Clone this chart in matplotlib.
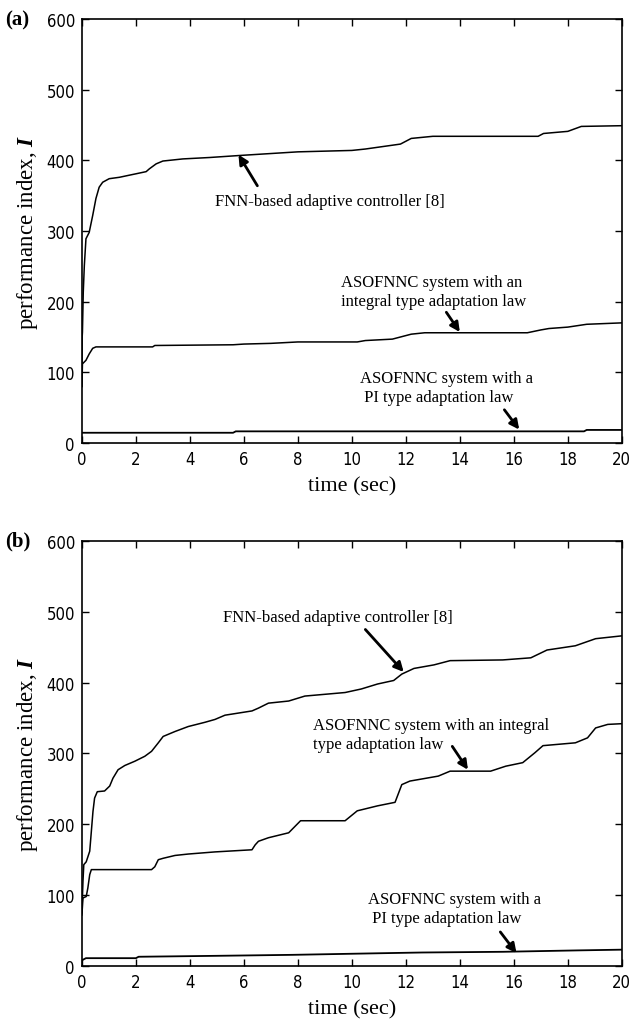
import numpy as np
import matplotlib
matplotlib.use('Agg')
import matplotlib.pyplot as plt

plt.rcParams['font.family'] = ['Liberation Serif', 'DejaVu Serif']
plt.rcParams['mathtext.fontset'] = 'custom'
plt.rcParams['mathtext.bf'] = 'Liberation Serif:bold:italic'

# Panel (a) curves
t_fnn_a = [0, 0.01, 0.02, 0.05, 0.09, 0.15, 0.27, 0.4, 0.52, 0.64, 0.77, 1.01, 1.39, 1.76, 2.01, 2.38,
           2.5, 2.75, 3.0, 3.74, 4.73, 5.9, 8.0, 10.0, 10.5, 11.8, 12.2, 13.0, 16.9, 17.1, 18.0, 18.5, 20]
fnn_a = [80, 150, 157, 213, 251, 289, 298, 322, 346, 362, 369, 374, 376, 379, 381, 384,
         388, 395, 399, 402, 404, 407, 412, 414, 416, 423, 431, 434, 434, 438, 441, 448, 449]

t_int_a = [0, 0.02, 0.15, 0.27, 0.4, 0.52, 2.62, 2.7, 5.6, 6.0, 7.0, 8.0, 10.2, 10.5, 11.5, 11.8,
           12.2, 12.7, 16.5, 17.0, 17.3, 18.0, 18.7, 20]
int_a = [80, 112, 117, 126, 134, 136, 136, 138, 139, 140, 141, 143, 143, 145, 147, 150,
         154, 156, 156, 160, 162, 164, 168, 170]

t_pi_a = [0, 5.6, 5.7, 18.6, 18.7, 20]
pi_a = [14.5, 14.5, 16.5, 16.5, 18.5, 18.5]

# Panel (b) curves
t_fnn_b = [0, 0.04, 0.07, 0.16, 0.29, 0.35, 0.41, 0.47, 0.57, 0.84, 1.03, 1.15, 1.34, 1.59, 1.96,
           2.33, 2.58, 2.83, 3.01, 3.45, 3.94, 4.56, 4.93, 5.3, 5.8, 6.3, 6.54, 6.91, 7.66, 8.26,
           9.75, 10.35, 10.95, 11.55, 11.85, 12.3, 13.04, 13.64, 15.59, 16.63, 17.23, 18.28, 19.03, 20]
fnn_b = [75, 120, 143, 147, 162, 190, 218, 237, 246, 247, 254, 265, 277, 283, 289,
         296, 303, 315, 324, 331, 338, 344, 348, 354, 357, 360, 364, 371, 374, 381,
         386, 391, 398, 403, 412, 420, 425, 431, 432, 435, 446, 452, 462, 466]

t_int_b = [0, 0.04, 0.16, 0.22, 0.29, 0.35, 2.58, 2.7, 2.83, 3.01, 3.45, 3.94, 4.93, 6.3, 6.42,
           6.54, 6.91, 7.66, 8.1, 9.75, 10.2, 10.95, 11.6, 11.85, 12.15, 13.2, 13.64, 15.14, 15.7,
           16.33, 16.78, 17.08, 18.28, 18.73, 19.03, 19.48, 20]
int_b = [72, 96, 98, 110, 129, 136, 136, 140, 150, 152, 156, 158, 161, 164, 171,
         176, 181, 188, 205, 205, 219, 226, 231, 256, 261, 268, 275, 275, 282,
         287, 301, 311, 315, 322, 336, 341, 342]

t_pi_b = [0, 0.15, 2.0, 2.1, 4.97, 7.8, 11.1, 12.6, 15.6, 18.4, 20]
pi_b = [8, 11, 11, 13, 14.3, 15.7, 18, 19, 20, 22, 23]

x_ticks = np.arange(0, 21, 2)
y_ticks = np.arange(0, 601, 100)

label_fnn = 'FNN-based adaptive controller [8]'
label_pi = 'ASOFNNC system with a\n PI type adaptation law'

fig = plt.figure(figsize=(6.3, 10.2), dpi=100)
ax_a = fig.add_axes([0.130, 0.5647, 0.857, 0.4157])
ax_b = fig.add_axes([0.130, 0.0520, 0.857, 0.4167])

arrow = dict(arrowstyle='-|>', color='black', lw=2.0, mutation_scale=14, shrinkA=0, shrinkB=0)

for ax, panel in [(ax_a, '(a)'), (ax_b, '(b)')]:
    ax.set_xlim(0, 20)
    ax.set_ylim(0, 600)
    ax.set_xticks(x_ticks)
    ax.set_yticks(y_ticks)
    ax.tick_params(direction='in', top=True, right=True, length=5, width=1.0,
                   labelsize=12, pad=5)
    for lab in ax.get_xticklabels() + ax.get_yticklabels():
        lab.set_family('DejaVu Sans')
        lab.set_stretch('condensed')
    for s in ax.spines.values():
        s.set_linewidth(1.2)
    ax.set_xlabel('time (sec)', fontsize=16, labelpad=6)
    ax.set_ylabel(r'performance index, $\mathbf{I}$', fontsize=16.5, labelpad=5)
    ax.text(-0.143, 1.0, panel, transform=ax.transAxes, fontsize=15, fontweight='bold',
            ha='left', va='center')

ax_a.plot(t_fnn_a, fnn_a, color='black', lw=1.1)
ax_a.plot(t_int_a, int_a, color='black', lw=1.1)
ax_a.plot(t_pi_a, pi_a, color='black', lw=1.3)

ax_a.annotate('', xy=(5.8, 408), xytext=(6.5, 364), arrowprops=arrow)
ax_a.text(9.2, 343, label_fnn, fontsize=12, ha='center', va='center')
ax_a.annotate('', xy=(14.0, 157), xytext=(13.5, 185), arrowprops=arrow)
ax_a.text(9.6, 215, 'ASOFNNC system with an\nintegral type adaptation law', fontsize=12,
          ha='left', va='center', linespacing=1.25)
ax_a.annotate('', xy=(16.2, 19), xytext=(15.65, 47), arrowprops=arrow)
ax_a.text(10.3, 78, label_pi, fontsize=12, ha='left', va='center', linespacing=1.25)

ax_b.plot(t_fnn_b, fnn_b, color='black', lw=1.1)
ax_b.plot(t_int_b, int_b, color='black', lw=1.1)
ax_b.plot(t_pi_b, pi_b, color='black', lw=1.3)

ax_b.annotate('', xy=(11.92, 415), xytext=(10.5, 475), arrowprops=arrow)
ax_b.text(9.5, 493, label_fnn, fontsize=12, ha='center', va='center')
ax_b.annotate('', xy=(14.3, 277), xytext=(13.72, 310), arrowprops=arrow)
ax_b.text(8.56, 327, 'ASOFNNC system with an integral\ntype adaptation law', fontsize=12,
          ha='left', va='center', linespacing=1.25)
ax_b.annotate('', xy=(16.1, 18), xytext=(15.5, 48), arrowprops=arrow)
ax_b.text(10.58, 81, label_pi, fontsize=12, ha='left', va='center', linespacing=1.25)

fig.savefig('out.png', dpi=100)
